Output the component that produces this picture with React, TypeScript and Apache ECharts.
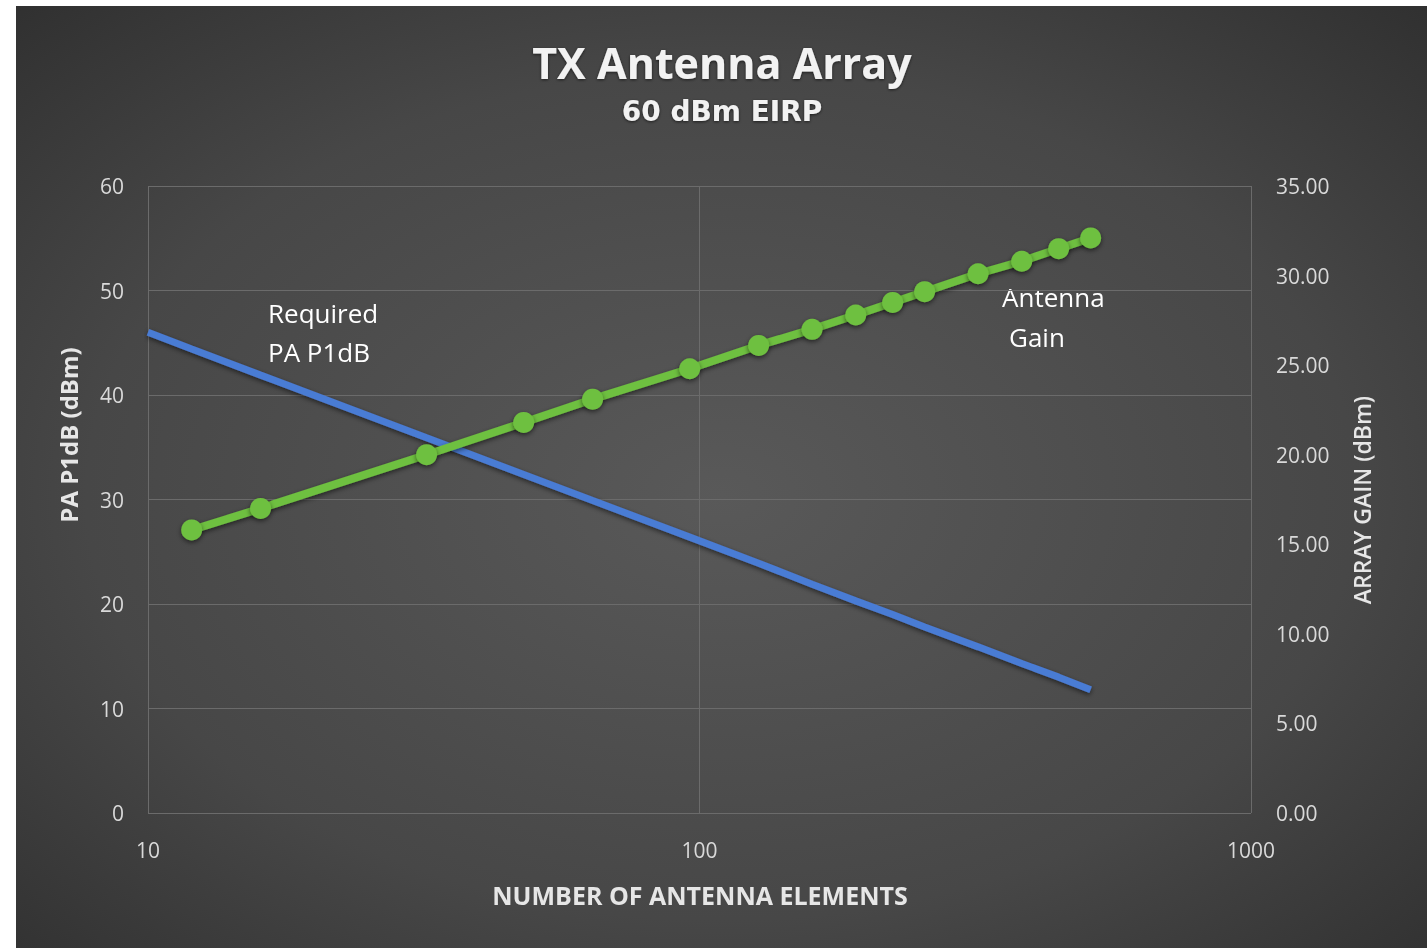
import React, { useEffect, useRef } from "react";
import * as echarts from "echarts";

const antennaCountsBlue = [10, 12, 16, 32, 48, 64, 96, 128, 160, 192, 224, 256, 320, 384, 448, 512];
const paP1dB = [46.0, 44.4, 41.9, 35.9, 32.4, 29.9, 26.4, 23.9, 21.9, 20.3, 19.0, 17.8, 15.9, 14.3, 13.0, 11.8];
const antennaCountsGreen = [12, 16, 32, 48, 64, 96, 128, 160, 192, 224, 256, 320, 384, 448, 512];
const arrayGain = [15.8, 17.0, 20.0, 21.8, 23.1, 24.8, 26.1, 27.0, 27.8, 28.5, 29.1, 30.1, 30.8, 31.5, 32.1];

const TITLE = "TX Antenna Array";
const SUBTITLE = "60 dBm EIRP";
const X_NAME = "NUMBER OF ANTENNA ELEMENTS";
const Y_LEFT_NAME = "PA P1dB (dBm)";
const Y_RIGHT_NAME = "ARRAY GAIN (dBm)";

export default function App() {
  const ref = useRef<HTMLDivElement>(null);
  useEffect(() => {
    if (!ref.current) return;
    const chart = echarts.init(ref.current, undefined, { renderer: "svg" });
    const txt = "#e6e6e6";
    const font = "'Open Sans', sans-serif";
    const shadow = { textShadowColor: "rgba(0,0,0,0.6)", textShadowBlur: 3, textShadowOffsetY: 1 };
    chart.setOption({
      animation: false,
      backgroundColor: {
        type: "radial",
        x: 0.5,
        y: 0.52,
        r: 1.0,
        colorStops: [
          { offset: 0, color: "#595959" },
          { offset: 0.45, color: "#474747" },
          { offset: 0.75, color: "#2e2e2e" },
          { offset: 1, color: "#262626" },
        ],
      },
      grid: { left: 132, right: 176, top: 180, bottom: 135 },
      xAxis: {
        type: "log",
        logBase: 10,
        min: 10,
        max: 1000,
        axisLine: { show: false },
        axisTick: { show: false },
        minorTick: { show: false },
        splitLine: { show: true, lineStyle: { color: "#6b6b6b", width: 1 } },
        axisLabel: {
          color: "#d9d9d9",
          fontSize: 21,
          fontFamily: font,
          margin: 26,
          formatter: (v: number) => String(Math.round(v)),
        },
      },
      yAxis: [
        {
          type: "value",
          min: 0,
          max: 60,
          interval: 10,
          axisLine: { show: false },
          axisTick: { show: false },
          splitLine: { show: true, lineStyle: { color: "#6b6b6b", width: 1 } },
          axisLabel: { color: "#d9d9d9", fontSize: 21, fontFamily: font, margin: 24 },
        },
        {
          type: "value",
          min: 0,
          max: 35,
          interval: 5,
          axisLine: { show: false },
          axisTick: { show: false },
          splitLine: { show: false },
          axisLabel: {
            color: "#d9d9d9",
            fontSize: 21,
            fontFamily: font,
            margin: 25,
            formatter: (v: number) => v.toFixed(2),
          },
        },
      ],
      series: [
        {
          name: "Required PA P1dB",
          type: "line",
          yAxisIndex: 0,
          data: antennaCountsBlue.map((n, i) => [n, paP1dB[i]]),
          showSymbol: false,
          symbol: "none",
          lineStyle: {
            color: "#4a7bd4",
            width: 7,
            shadowColor: "rgba(0,0,0,0.55)",
            shadowBlur: 5,
            shadowOffsetY: 2,
          },
          z: 2,
        },
        {
          name: "Antenna Gain",
          type: "line",
          yAxisIndex: 1,
          data: antennaCountsGreen.map((n, i) => [n, arrayGain[i]]),
          symbol: "circle",
          symbolSize: 21,
          itemStyle: {
            color: "#6ec03f",
            shadowColor: "rgba(0,0,0,0.55)",
            shadowBlur: 5,
            shadowOffsetY: 2,
          },
          lineStyle: {
            color: "#6ec03f",
            width: 8,
            shadowColor: "rgba(0,0,0,0.55)",
            shadowBlur: 5,
            shadowOffsetY: 2,
          },
          z: 3,
        },
      ],
      graphic: [
        {
          type: "text",
          x: 706,
          y: 56,
          style: {
            text: TITLE,
            fill: "#f2f2f2",
            font: "bold 43px 'Open Sans', sans-serif",
            textAlign: "center",
            textVerticalAlign: "middle",
            ...shadow,
          },
        },
        {
          type: "text",
          x: 706,
          y: 105,
          style: {
            text: SUBTITLE,
            fill: "#f2f2f2",
            font: "600 28px 'DejaVu Sans', sans-serif",
            textAlign: "center",
            textVerticalAlign: "middle",
            ...shadow,
          },
        },
        {
          type: "text",
          x: 52,
          y: 429,
          rotation: Math.PI / 2,
          style: {
            text: Y_LEFT_NAME,
            fill: txt,
            font: "bold 24px 'Open Sans', sans-serif",
            textAlign: "center",
            textVerticalAlign: "middle",
          },
        },
        {
          type: "text",
          x: 1346,
          y: 494,
          rotation: Math.PI / 2,
          style: {
            text: Y_RIGHT_NAME,
            fill: txt,
            font: "600 23px 'Open Sans', sans-serif",
            textAlign: "center",
            textVerticalAlign: "middle",
          },
        },
        {
          type: "text",
          x: 684,
          y: 889,
          style: {
            text: X_NAME,
            fill: txt,
            font: "bold 25px 'Open Sans', sans-serif",
            textAlign: "center",
            textVerticalAlign: "middle",
          },
        },
        {
          type: "text",
          x: 252,
          y: 307,
          style: { text: "Required", fill: "#ffffff", font: "26px 'Open Sans', sans-serif", textAlign: "left", textVerticalAlign: "middle" },
        },
        {
          type: "text",
          x: 252,
          y: 346,
          style: { text: "PA P1dB", fill: "#ffffff", font: "26px 'Open Sans', sans-serif", textAlign: "left", textVerticalAlign: "middle" },
        },
        {
          type: "text",
          x: 986,
          y: 291,
          style: { text: "Antenna", fill: "#ffffff", font: "26px 'Open Sans', sans-serif", textAlign: "left", textVerticalAlign: "middle" },
        },
        {
          type: "text",
          x: 993,
          y: 331,
          style: { text: "Gain", fill: "#ffffff", font: "26px 'Open Sans', sans-serif", textAlign: "left", textVerticalAlign: "middle" },
        },
      ],
    });
    return () => chart.dispose();
  }, []);
  return (
    <div
      ref={ref}
      style={{ position: "fixed", left: 16, top: 6, width: 1411, height: 942 }}
    />
  );
}
